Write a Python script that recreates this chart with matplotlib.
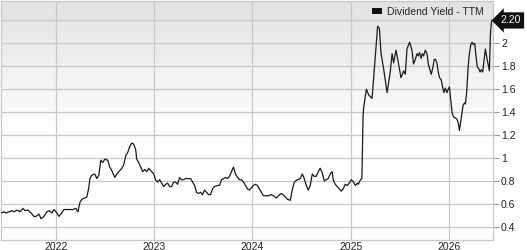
import numpy as np
import pandas as pd
import matplotlib
matplotlib.use("Agg")
import matplotlib.pyplot as plt
import matplotlib.transforms as mtransforms
from matplotlib.patches import Patch

plt.rcParams['font.family'] = ['Liberation Sans', 'DejaVu Sans']

# dates as decimal years, values = dividend yield (TTM, %)
years = [
    2021.438, 2021.468, 2021.489, 2021.519, 2021.550, 2021.570, 2021.601, 2021.631, 2021.662, 2021.682,
    2021.712, 2021.743, 2021.773, 2021.794, 2021.824, 2021.845, 2021.875, 2021.905, 2021.926, 2021.956,
    2021.977, 2022.007, 2022.027, 2022.058, 2022.078, 2022.109, 2022.139, 2022.170, 2022.200, 2022.221,
    2022.241, 2022.261, 2022.292, 2022.312, 2022.332, 2022.343, 2022.363, 2022.393, 2022.414, 2022.434,
    2022.454, 2022.475, 2022.495, 2022.525, 2022.546, 2022.566, 2022.597, 2022.617, 2022.637, 2022.668,
    2022.688, 2022.708, 2022.729, 2022.749, 2022.769, 2022.790, 2022.810, 2022.820, 2022.840, 2022.861,
    2022.881, 2022.902, 2022.922, 2022.942, 2022.962, 2022.993, 2023.013, 2023.034, 2023.054, 2023.074,
    2023.095, 2023.115, 2023.135, 2023.156, 2023.176, 2023.196, 2023.217, 2023.237, 2023.257, 2023.277,
    2023.298, 2023.318, 2023.349, 2023.369, 2023.389, 2023.410, 2023.430, 2023.450, 2023.471, 2023.491,
    2023.511, 2023.532, 2023.552, 2023.572, 2023.593, 2023.613, 2023.643, 2023.664, 2023.684, 2023.704,
    2023.725, 2023.745, 2023.765, 2023.786, 2023.806, 2023.826, 2023.847, 2023.867, 2023.887, 2023.908,
    2023.928, 2023.948, 2023.968, 2023.989, 2024.009, 2024.030, 2024.050, 2024.070, 2024.091, 2024.111,
    2024.141, 2024.162, 2024.192, 2024.212, 2024.243, 2024.263, 2024.294, 2024.324, 2024.355, 2024.385,
    2024.405, 2024.426, 2024.456, 2024.487, 2024.507, 2024.527, 2024.548, 2024.568, 2024.588, 2024.609,
    2024.629, 2024.649, 2024.670, 2024.690, 2024.710, 2024.731, 2024.751, 2024.771, 2024.792, 2024.812,
    2024.822, 2024.843, 2024.873, 2024.904, 2024.924, 2024.944, 2024.964, 2024.985, 2025.005, 2025.026,
    2025.046, 2025.066, 2025.076, 2025.097, 2025.112, 2025.124, 2025.130, 2025.158, 2025.181, 2025.216,
    2025.232, 2025.256, 2025.272, 2025.290, 2025.307, 2025.333, 2025.368, 2025.401, 2025.419, 2025.435,
    2025.459, 2025.486, 2025.510, 2025.537, 2025.554, 2025.571, 2025.598, 2025.612, 2025.622, 2025.638,
    2025.656, 2025.673, 2025.686, 2025.699, 2025.714, 2025.727, 2025.740, 2025.757, 2025.775, 2025.788,
    2025.801, 2025.818, 2025.832, 2025.849, 2025.862, 2025.876, 2025.889, 2025.903, 2025.920, 2025.933,
    2025.947, 2025.961, 2025.978, 2025.991, 2026.004, 2026.018, 2026.032, 2026.045, 2026.062, 2026.079,
    2026.093, 2026.106, 2026.116, 2026.130, 2026.143, 2026.157, 2026.167, 2026.181, 2026.194, 2026.207,
    2026.222, 2026.235, 2026.248, 2026.262, 2026.275, 2026.289, 2026.303, 2026.316, 2026.329, 2026.343,
    2026.357, 2026.370, 2026.384, 2026.398, 2026.411, 2026.421, 2026.431, 2026.438,
]
yield_ttm = [
    0.52, 0.53, 0.52, 0.53, 0.54, 0.53, 0.545, 0.53, 0.56, 0.54,
    0.545, 0.52, 0.49, 0.49, 0.51, 0.47, 0.49, 0.53, 0.54, 0.52,
    0.55, 0.52, 0.49, 0.52, 0.55, 0.55, 0.55, 0.55, 0.56, 0.53,
    0.61, 0.64, 0.65, 0.66, 0.74, 0.82, 0.85, 0.86, 0.82, 0.85,
    0.98, 0.96, 0.99, 0.98, 0.92, 0.89, 0.83, 0.86, 0.88, 0.91,
    0.94, 1.02, 1.05, 1.10, 1.13, 1.12, 1.07, 0.99, 0.96, 0.92,
    0.88, 0.90, 0.88, 0.91, 0.89, 0.86, 0.81, 0.79, 0.81, 0.78,
    0.75, 0.77, 0.78, 0.75, 0.75, 0.79, 0.79, 0.77, 0.83, 0.81,
    0.81, 0.82, 0.82, 0.82, 0.79, 0.76, 0.70, 0.69, 0.70, 0.68,
    0.72, 0.70, 0.68, 0.68, 0.73, 0.75, 0.76, 0.76, 0.81, 0.82,
    0.83, 0.82, 0.84, 0.88, 0.92, 0.86, 0.83, 0.81, 0.81, 0.79,
    0.76, 0.73, 0.72, 0.74, 0.76, 0.77, 0.76, 0.73, 0.70, 0.67,
    0.67, 0.67, 0.68, 0.67, 0.65, 0.67, 0.69, 0.67, 0.64, 0.63,
    0.72, 0.79, 0.81, 0.82, 0.86, 0.82, 0.76, 0.72, 0.76, 0.86,
    0.84, 0.84, 0.88, 0.91, 0.87, 0.80, 0.81, 0.82, 0.86, 0.88,
    0.81, 0.77, 0.74, 0.71, 0.73, 0.77, 0.76, 0.78, 0.81, 0.79,
    0.76, 0.78, 0.77, 0.81, 0.82, 1.37, 1.44, 1.60, 1.55, 1.52,
    1.70, 1.97, 2.15, 2.13, 1.91, 1.78, 1.57, 1.75, 1.91, 1.83,
    1.94, 1.82, 1.70, 1.76, 1.73, 1.95, 2.01, 1.97, 1.94, 1.82,
    1.86, 1.91, 1.89, 1.92, 1.87, 1.91, 1.89, 1.94, 1.91, 1.82,
    1.78, 1.73, 1.78, 1.86, 1.86, 1.83, 1.75, 1.70, 1.68, 1.62,
    1.57, 1.61, 1.57, 1.60, 1.62, 1.50, 1.39, 1.36, 1.35, 1.34,
    1.31, 1.24, 1.30, 1.39, 1.46, 1.48, 1.47, 1.59, 1.79, 1.91,
    1.99, 2.01, 1.99, 2.00, 1.88, 1.79, 1.78, 1.75, 1.77, 1.75,
    1.85, 1.95, 1.88, 1.82, 1.76, 2.08, 2.18, 2.20,
]
year_ticks = [2022, 2023, 2024, 2025, 2026]
y_ticks = [0.4, 0.6, 0.8, 1.0, 1.2, 1.4, 1.6, 1.8, 2.0, 2.2]
series_label = "Dividend Yield - TTM"


def to_date(y):
    yr = int(np.floor(y))
    start = pd.Timestamp(year=yr, month=1, day=1)
    return start + pd.Timedelta(days=(y - yr) * 365.25)


dates = [to_date(y) for y in years]
x_start = to_date(2021.438)
x_end = to_date(2026.445)

fig = plt.figure(figsize=(5.27, 2.5), dpi=100)
ax = fig.add_axes([0.002, 0.04, 0.933, 0.958])

# grey at the top fading to white around the middle
grad = np.linspace(0, 1, 256).reshape(-1, 1)
grad = np.clip((grad - 0.45) / 0.55, 0, 1)
cmap = matplotlib.colors.LinearSegmentedColormap.from_list("bg", ["#ffffff", "#e2e2e2"])
ax.imshow(grad, aspect="auto", cmap=cmap, extent=[0, 1, 0, 1],
          transform=ax.transAxes, origin="lower", zorder=0)

ax.plot(dates, yield_ttm, color="#1a1a1a", linewidth=0.9, zorder=3)

ax.set_xlim(x_start, x_end)
ax.set_ylim(0.284, 2.374)

ax.set_xticks([pd.Timestamp(year=y, month=1, day=1) for y in year_ticks])
ax.set_xticklabels([str(y) for y in year_ticks])
ax.set_yticks(y_ticks)
ax.set_yticklabels(["%g" % v if v < 2.1 else "" for v in y_ticks])

ax.grid(True, color="#c8c8c8", linewidth=0.9, zorder=1)
ax.set_axisbelow(True)
for s in ax.spines.values():
    s.set_color("#c8c8c8")
    s.set_linewidth(0.9)

ax.yaxis.tick_right()
ax.tick_params(axis="y", direction="out", length=4, width=0.8, color="#999999",
               labelsize=7.5, pad=2, labelcolor="#222222")
ax.tick_params(axis="x", length=0, labelsize=7.5, pad=1.5, labelcolor="#222222")

handle = Patch(facecolor="#111111", edgecolor="none")
leg = ax.legend([handle], [series_label], loc="upper right", frameon=False,
                fontsize=7.5, handlelength=1.0, handleheight=0.5, handletextpad=0.5,
                borderaxespad=0.2, bbox_to_anchor=(0.995, 1.0))
leg.get_texts()[0].set_color("#222222")

# last-value callout on the right axis
trans = mtransforms.blended_transform_factory(ax.transAxes, ax.transData)
last = yield_ttm[-1]
ax.text(1.016, last, "%.2f" % last, transform=trans, ha="left", va="center",
        fontsize=7.5, color="white", clip_on=False, zorder=5,
        bbox=dict(boxstyle="larrow,pad=0.3", facecolor="#111111", edgecolor="none"))

fig.savefig("out.png", dpi=100)
